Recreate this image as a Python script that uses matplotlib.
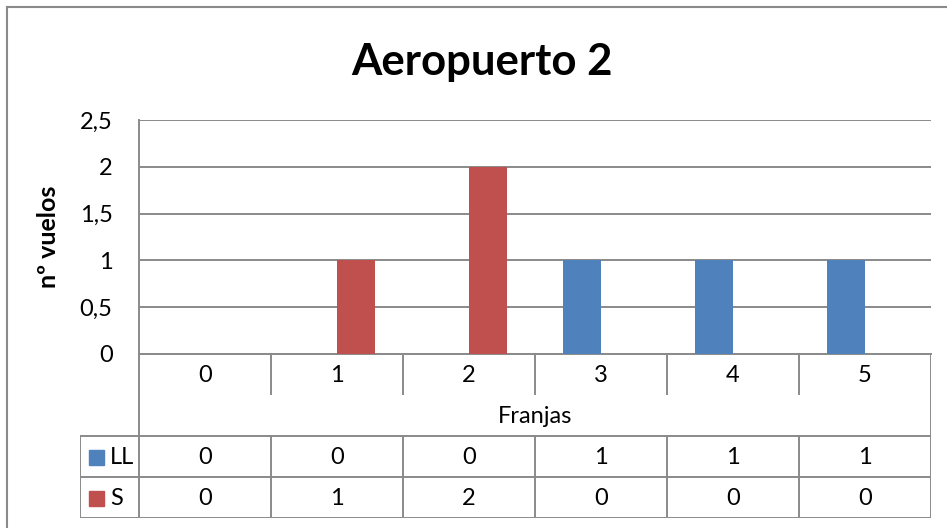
import numpy as np
import matplotlib
matplotlib.use('Agg')
import matplotlib.pyplot as plt
from matplotlib.patches import Rectangle
from matplotlib.lines import Line2D

plt.rcParams['font.family'] = ['Lato', 'DejaVu Sans']

franjas = ['0', '1', '2', '3', '4', '5']
ll = [0, 0, 0, 1, 1, 1]
s = [0, 1, 2, 0, 0, 0]
series = [('LL', ll, '#4F81BD'), ('S', s, '#C0504D')]

W, H = 947, 528
fs = 17
fig = plt.figure(figsize=(W / 100, H / 100), dpi=100)

def px(x0, y0, x1, y1):
    # pixel box (top-left origin) -> figure fraction rect
    return [x0 / W, 1 - y1 / H, (x1 - x0) / W, (y1 - y0) / H]

grid_c = '#8a8a8a'

# chart frame
fig.add_artist(Line2D([7 / W, 7 / W], [0, 1 - 7 / H], color=grid_c, lw=1.5))
fig.add_artist(Line2D([7 / W, 1], [1 - 7 / H, 1 - 7 / H], color=grid_c, lw=1.5))

ax = fig.add_axes(px(139, 120, 931, 354))
x = np.arange(len(franjas)) + 0.5
bw = 0.288
ax.bar(x - bw / 2, ll, bw, color=series[0][2], zorder=3)
ax.bar(x + bw / 2, s, bw, color=series[1][2], zorder=3)
ax.set_xlim(0, 6)
ax.set_ylim(0, 2.5)
ax.set_yticks(np.arange(0, 2.51, 0.5))
ax.set_yticklabels(['0', '0,5', '1', '1,5', '2', '2,5'])
ax.set_xticks([])
ax.yaxis.grid(True, color=grid_c, lw=1.4)
ax.tick_params(axis='y', length=0, pad=19, labelsize=fs)
for sp in ['top', 'right']:
    ax.spines[sp].set_visible(False)
for sp in ['left', 'bottom']:
    ax.spines[sp].set_color(grid_c)
    ax.spines[sp].set_linewidth(1.4)
ax.set_ylabel('nº vuelos', fontsize=18, fontweight='bold')
ax.yaxis.set_label_coords(-79 / 792, 0.5)

fig.text(482 / W, 1 - 62 / H, 'Aeropuerto 2', ha='center', va='center',
         fontsize=31.5, fontweight='bold')

# data table under the plot
tb = fig.add_axes(px(80, 354, 931, 518))
tb.set_xlim(-59 / 132, 6)
tb.set_ylim(4, 0)
tb.axis('off')
lk = dict(color=grid_c, lw=1.4, solid_capstyle='projecting')
tb.plot([0, 0], [0, 4], **lk)
tb.plot([6, 6], [0, 4], **lk)
for k in range(1, 6):
    tb.plot([k, k], [0, 0.98], **lk)
    tb.plot([k, k], [2, 4], **lk)
for r in [2, 3, 4]:
    tb.plot([-59 / 132, 6], [r, r], **lk)
tb.plot([-59 / 132, -59 / 132], [2, 4], **lk)

for i, f in enumerate(franjas):
    tb.text(i + 0.5, 0.52, f, ha='center', va='center', fontsize=fs)
tb.text(3, 1.52, 'Franjas', ha='center', va='center', fontsize=fs)
for r, (name, vals, col) in enumerate(series):
    y = 2.5 + r
    tb.add_patch(Rectangle((-50 / 132, y - 0.16), 15 / 132, 0.36, color=col))
    tb.text(-29 / 132, y + 0.02, name, ha='left', va='center', fontsize=fs)
    for i, v in enumerate(vals):
        tb.text(i + 0.5, y + 0.02, str(v), ha='center', va='center', fontsize=fs)

fig.savefig('out.png', dpi=100)
